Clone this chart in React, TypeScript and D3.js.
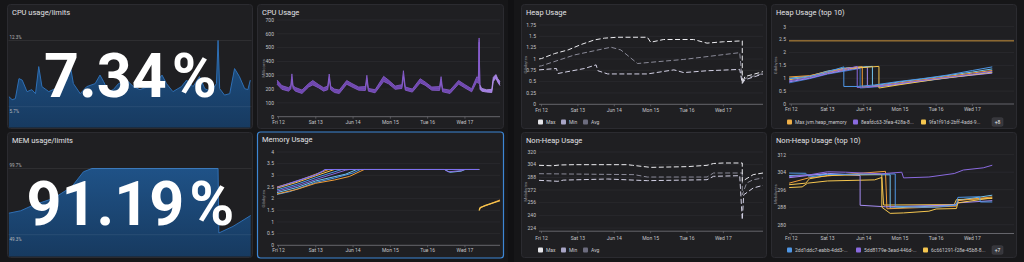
import * as d3 from "d3";
import React from "react";

type Pt = [number, number];
type Band = [number, number, number];
type Line = { pts: Pt[]; color: string; dash?: string; width?: number };

const FONT = "Roboto, 'Noto Sans', sans-serif";
const BG = "#161618";
const PANEL = "#1f1f22";
const BORDER = "#2b2b30";
const GRID = "#2c2c31";
const AXIS = "#77777d";
const TICK_TEXT = "#c4c4c8";

// days since Fri 12 00:00
const dayTicks = [0, 1, 2, 3, 4, 5];
const dayLabels = ["Fri 12", "Sat 13", "Jun 14", "Mon 15", "Tue 16", "Wed 17"];

// ---- stat panels ----
const cpuLimitRange = [5.7, 12.3];
const cpuLimitValue = "7.34";
const cpuLimitPct: Pt[] = [
  [-0.08, 6.7], [0.0, 6.4], [0.08, 6.5], [0.17, 8.5], [0.25, 8.35], [0.37, 7.2], [0.49, 7.4],
  [0.58, 7.0], [0.66, 9.7], [0.74, 7.7], [0.91, 7.2], [1.07, 7.5], [1.24, 8.2], [1.36, 8.35],
  [1.44, 9.85], [1.52, 8.0], [1.69, 7.0], [1.85, 7.7], [2.06, 8.0], [2.18, 8.85], [2.27, 8.2],
  [2.39, 7.2], [2.51, 7.4], [2.64, 8.0], [2.84, 8.35], [3.01, 7.7], [3.17, 7.4], [3.38, 7.7],
  [3.54, 8.0], [3.72, 8.85], [3.83, 8.0], [3.99, 7.2], [4.2, 7.7], [4.33, 8.35], [4.49, 7.7],
  [4.65, 8.7], [4.78, 7.5], [4.94, 7.2], [5.07, 8.0], [5.11, 12.3], [5.15, 7.5], [5.27, 6.86],
  [5.4, 7.0], [5.52, 9.5], [5.64, 8.7], [5.77, 7.5], [5.85, 7.4], [5.91, 8.35],
];

const memLimitRange = [49.3, 99.7];
const memLimitValue = "91.19";
const memLimitPct: Pt[] = [
  [-0.08, 65.7], [0.21, 67.5], [0.54, 72], [1.03, 77], [1.48, 85.8], [1.77, 97.2], [1.98, 99.7],
  [5.11, 99.7], [5.13, 50.6], [5.48, 55.6], [5.92, 63.9],
];

// ---- CPU Usage (millicores): day, low, high ----
const cpuTicks = [0, 100, 200, 300, 400, 500, 600, 700];
const cpuBand: Band[] = [
  [-0.04, 235, 265], [0.09, 198, 225], [0.27, 185, 210], [0.33, 200, 225], [0.36, 270, 310],
  [0.39, 205, 225], [0.45, 185, 212], [0.63, 168, 193], [0.81, 215, 240], [0.92, 230, 262],
  [1.08, 208, 232], [1.21, 185, 210], [1.32, 195, 222], [1.36, 275, 309], [1.4, 195, 220],
  [1.5, 175, 200], [1.63, 168, 193], [1.83, 235, 262], [1.97, 215, 240], [2.15, 192, 215],
  [2.33, 190, 218], [2.37, 265, 300], [2.41, 185, 205], [2.59, 173, 195], [2.82, 255, 292],
  [2.95, 238, 265], [3.13, 198, 222], [3.31, 205, 232], [3.35, 290, 333], [3.4, 192, 215],
  [3.59, 178, 200], [3.8, 245, 275], [3.93, 228, 252], [4.11, 192, 215], [4.32, 190, 218],
  [4.36, 255, 290], [4.4, 180, 202], [4.6, 168, 192], [4.83, 236, 262], [5.0, 208, 232],
  [5.18, 180, 202], [5.32, 255, 290], [5.36, 240, 280], [5.38, 540, 570], [5.4, 200, 230],
];
const cpuBandAfter: Band[] = [
  [5.4, 200, 230], [5.45, 185, 205], [5.58, 178, 195], [5.72, 175, 198], [5.76, 255, 285],
  [5.83, 278, 305], [5.88, 250, 275], [5.94, 225, 255],
];

// ---- Memory Usage (GiB) ----
const memTicks = [0, 0.5, 1, 1.5, 2, 2.5, 3, 3.5, 4];
const memOrange: Pt[] = [[-0.04, 2.5], [0.5, 2.75], [1.0, 3.05], [1.35, 3.25], [5.38, 3.25]];
const memYellow: Pt[] = [[-0.04, 2.45], [0.5, 2.7], [1.0, 2.98], [1.5, 3.25], [5.38, 3.25]];
const memBlue: Pt[] = [[-0.04, 2.38], [0.5, 2.62], [1.0, 2.9], [1.6, 3.2], [1.7, 3.25], [5.38, 3.25]];
const memPurple: Pt[] = [
  [-0.04, 2.32], [0.5, 2.55], [1.0, 2.82], [1.8, 3.22], [1.9, 3.25], [4.45, 3.25], [4.55, 3.15],
  [4.9, 3.2], [5.0, 3.25], [5.38, 3.25],
];
const memLightBlue: Pt[] = [
  [-0.04, 2.26], [0.5, 2.48], [1.0, 2.76], [1.8, 3.05], [2.1, 3.25], [4.45, 3.25], [4.6, 3.13],
  [4.9, 3.18], [5.0, 3.25], [5.38, 3.25],
];
const memOrange2: Pt[] = [[-0.04, 2.2], [0.5, 2.4], [1.0, 2.66], [1.5, 2.8], [1.9, 2.95], [2.3, 3.25], [5.38, 3.25]];
const memBlue2: Pt[] = [[-0.04, 2.18], [0.3, 2.3], [1.0, 2.7], [1.5, 2.88], [2.0, 3.1], [2.2, 3.25], [5.38, 3.25]];
const memTop: Pt[] = [[-0.04, 2.48], [0.5, 2.76], [1.0, 3.02], [1.2, 3.2], [1.25, 3.25], [5.38, 3.25]];
const memAfterA: Pt[] = [[5.38, 1.49], [5.4, 1.6], [5.55, 1.71], [5.94, 1.91]];
const memAfterB: Pt[] = [[5.39, 1.53], [5.42, 1.63], [5.6, 1.73], [5.94, 1.94]];

// ---- Heap Usage (GiB) ----
const heapTicks = [0, 0.25, 0.5, 0.75, 1, 1.25, 1.5, 1.75];
const heapMax: Pt[] = [
  [-0.07, 1.0], [0, 1.01], [0.36, 1.12], [0.73, 1.2], [1.09, 1.32], [1.45, 1.42], [1.73, 1.46],
  [2.09, 1.48], [2.91, 1.48], [3.0, 1.37], [3.36, 1.43], [4.18, 1.43], [4.55, 1.35], [5.0, 1.38],
  [5.52, 1.4], [5.52, 0.46], [5.59, 0.61], [6.09, 0.72],
];
const heapAvg: Pt[] = [
  [-0.07, 0.84], [0, 0.85], [0.91, 1.09], [1.91, 1.26], [2.18, 1.2], [2.64, 0.9], [3.18, 0.94],
  [3.91, 0.99], [5.45, 1.14], [5.52, 0.5], [5.59, 0.57], [6.09, 0.68],
];
const heapMin: Pt[] = [
  [-0.07, 0.76], [0.41, 0.79], [0.45, 0.68], [1.18, 0.79], [1.5, 0.87], [1.55, 0.74], [1.82, 0.67],
  [2.91, 0.67], [3.64, 0.76], [3.91, 0.7], [4.55, 0.74], [5.45, 0.77], [5.52, 0.46], [5.59, 0.54],
  [6.09, 0.67],
];

// ---- Heap Usage top 10 (GiB) ----
const heapTopTicks = [0, 0.5, 1, 1.5, 2, 2.5, 3];
const heapLimit: Pt[] = [[-0.064, 2.45], [6.15, 2.45]];
const heapTopA: Pt[] = [[-0.06, 0.98], [0.3, 1.02], [0.6, 1.1], [1.0, 1.25], [1.45, 1.44], [1.45, 0.68], [1.82, 0.68], [2.3, 0.74], [3.0, 0.88], [3.6, 0.98], [4.3, 1.12], [5.0, 1.3], [5.55, 1.44]];
const heapTopB: Pt[] = [[-0.06, 0.9], [0.5, 1.02], [1.0, 1.2], [1.5, 1.36], [1.82, 1.46], [1.82, 0.64], [2.4, 0.7], [3.0, 0.8], [4.0, 0.98], [5.0, 1.16], [5.55, 1.27]];
const heapTopC: Pt[] = [[-0.06, 0.94], [0.5, 1.06], [1.0, 1.22], [1.6, 1.38], [2.42, 1.46], [2.42, 0.62], [3.0, 0.75], [4.0, 0.96], [5.0, 1.14], [5.55, 1.24]];
const heapTopD: Pt[] = [[-0.06, 1.05], [0.5, 1.1], [1.0, 1.26], [1.6, 1.4], [1.96, 1.45], [1.96, 0.66], [2.5, 0.72], [3.0, 0.82], [4.0, 1.0], [5.0, 1.2], [5.55, 1.3]];
const heapTopE: Pt[] = [[-0.06, 0.86], [0.5, 1.0], [1.0, 1.18], [1.6, 1.34], [2.1, 1.44], [2.1, 0.66], [2.7, 0.72], [3.5, 0.88], [4.5, 1.05], [5.55, 1.2]];
const heapTopF: Pt[] = [[-0.06, 1.0], [0.5, 1.08], [1.0, 1.28], [1.5, 1.4], [2.24, 1.46], [2.24, 0.7], [3.0, 0.86], [4.0, 1.04], [5.0, 1.24], [5.55, 1.36]];
const heapTopG: Pt[] = [[-0.06, 0.82], [0.5, 0.98], [1.0, 1.16], [1.7, 1.33], [1.9, 1.38], [1.9, 0.62], [2.5, 0.68], [3.5, 0.86], [4.5, 1.04], [5.55, 1.22]];

// ---- Non-Heap Usage (MiB) ----
const nonHeapTicks = [224, 240, 256, 272, 288, 304, 320];
const nonHeapMax: Pt[] = [
  [-0.07, 303.2], [0.3, 302.6], [0.5, 303.6], [0.91, 304], [2.36, 304], [2.5, 303.2], [3.0, 300.6],
  [4.0, 301.5], [4.55, 303.2], [4.73, 305.5], [5.0, 306.1], [5.52, 306.1], [5.52, 283],
  [5.82, 291.4], [6.09, 293.5],
];
const nonHeapAvg: Pt[] = [
  [-0.07, 292.6], [2.55, 291.4], [2.91, 288.4], [4.55, 288.4], [4.73, 293.5], [5.52, 293.5],
  [5.52, 266], [5.64, 280.8], [5.82, 285], [6.09, 287.2],
];
const nonHeapMin: Pt[] = [
  [-0.07, 284.2], [0.45, 283], [0.6, 284.5], [1.82, 285.9], [2.91, 283.8], [4.55, 285],
  [4.73, 289.3], [5.45, 290.1], [5.52, 234.5], [5.56, 266], [5.82, 274.5], [6.09, 277.9],
];

// ---- Non-Heap Usage top 10 (MiB) ----
const nonHeapTopTicks = [280, 288, 296, 304, 312];
const nhTopA: Pt[] = [[-0.06, 302], [0.5, 302.8], [1.0, 304.2], [1.5, 304], [2.0, 303.6], [2.5, 303.3], [3.05, 304], [3.1, 301.4], [3.8, 301.8], [4.5, 303.4], [4.75, 305], [5.3, 306], [5.55, 307.2]];
const nhTopB: Pt[] = [[-0.06, 303.6], [0.4, 303.5], [0.5, 301.8], [1.0, 303], [2.87, 303.2], [2.87, 288.5], [3.5, 288], [4.0, 288], [4.56, 289], [4.6, 292.5], [5.2, 292.8], [5.22, 290.4], [5.55, 290.4]];
const nhTopC: Pt[] = [[-0.06, 298.3], [0.4, 299], [0.5, 301], [1.0, 302.5], [2.5, 303], [2.5, 288], [2.73, 285.2], [3.1, 285.4], [3.8, 286.2], [4.0, 287.2], [4.56, 287.4], [4.6, 290], [5.55, 292.3]];
const nhTopD: Pt[] = [[-0.06, 301.5], [1.0, 303.5], [1.9, 302.5], [1.9, 288.9], [2.6, 288.2], [4.5, 289], [4.6, 290], [5.55, 291]];
const nhTopE: Pt[] = [[-0.06, 299], [0.5, 301.5], [1.2, 302.6], [2.6, 304.4], [2.64, 287.3], [3.5, 287.8], [4.56, 288.5], [4.6, 291], [5.55, 292.7]];
const nhTopF: Pt[] = [[-0.06, 302.5], [1.0, 303], [2.73, 302.8], [2.73, 287.6], [4.56, 289], [4.62, 291.2], [5.55, 293.5]];
const nhTopG: Pt[] = [[-0.06, 297], [0.3, 297.3], [0.45, 299], [1.0, 300], [2.3, 300.5], [2.5, 301.6], [2.55, 289], [4.5, 289.2], [4.56, 291.5], [5.55, 292]];

const C = {
  blue: "#4f97e6",
  blue2: "#3c78c8",
  lightBlue: "#72c3ee",
  purple: "#8a6ae0",
  lavender: "#a58cf2",
  yellow: "#f5c64f",
  orange: "#f09e3a",
};

function Panel({ x, y, w, h, title, active }: { x: number; y: number; w: number; h: number; title: string; active?: boolean }) {
  return (
    <g>
      <rect x={x + 0.5} y={y + 0.5} width={w} height={h} rx={3} fill={PANEL}
        stroke={active ? "#3d86d4" : BORDER} strokeWidth={active ? 1.2 : 1} />
      <text x={x + 5} y={y + 10.5} fill="#e2e2e6" fontSize={7.5} fontWeight={400} fontFamily={FONT}>{title}</text>
    </g>
  );
}

function StatPanel({ x, y, w, h, title, data, range, value }: {
  x: number; y: number; w: number; h: number; title: string; data: Pt[]; range: number[]; value: string;
}) {
  const left = x + 1.5, right = x + w - 0.5, bottom = y + h - 0.5;
  const sx = d3.scaleLinear().domain([-0.09, 5.94]).range([left, right]);
  const sy = d3.scaleLinear().domain(range).range([y + 102.7, y + 36.5]);
  const area = d3.area<Pt>().x(d => sx(d[0])).y0(bottom).y1(d => sy(d[1]))(data) || "";
  const line = d3.line<Pt>().x(d => sx(d[0])).y(d => sy(d[1]))(data) || "";
  const gid = `g-${title.replace(/[^a-z]/gi, "")}`;
  return (
    <g>
      <Panel x={x} y={y} w={w} h={h} title={title} />
      <defs>
        <linearGradient id={gid} x1="0" x2="0" y1="0" y2="1">
          <stop offset="0" stopColor="#1f5287" />
          <stop offset="1" stopColor="#173a60" />
        </linearGradient>
      </defs>
      <path d={area} fill={`url(#${gid})`} />
      <path d={line} fill="none" stroke="#2e6fb5" strokeWidth={1} />
      {range.map((v, i) => (
        <g key={v}>
          <line x1={left} x2={right} y1={sy(v)} y2={sy(v)} stroke="#ffffff" strokeOpacity={0.12} strokeWidth={0.6} />
          <text x={left + 1} y={i === 0 ? sy(v) + 6 : sy(v) - 2} fill="#b8b8bc" fontSize={4.5} fontFamily={FONT}>{`${v}%`}</text>
        </g>
      ))}
      <text x={x + w / 2 + 1} y={y + 93} textAnchor="middle" fill="#ffffff" fontSize={61} fontWeight={700} fontFamily={FONT}>
        {value}<tspan dx={5}>%</tspan>
      </text>
    </g>
  );
}

type PlotProps = {
  left: number; right: number; top: number; bottom: number;
  xDomain: number[]; yDomain: number[]; yTicks: number[]; unit: string; labelY: number;
  marks: (x: d3.ScaleLinear<number, number>, y: d3.ScaleLinear<number, number>) => React.ReactNode;
};

function Plot({ left, right, top, bottom, xDomain, yDomain, yTicks, unit, labelY, marks }: PlotProps) {
  const x = d3.scaleLinear().domain(xDomain).range([left, right]);
  const y = d3.scaleLinear().domain(yDomain).range([bottom, top]);
  return (
    <g fontFamily={FONT}>
      {yTicks.map(t => (
        <g key={t}>
          {y(t) < bottom - 1 && <line x1={left} x2={right} y1={y(t)} y2={y(t)} stroke={GRID} strokeWidth={0.7} />}
          <text x={left - 3} y={y(t) + 1.8} textAnchor="end" fill={TICK_TEXT} fontSize={5}>{String(t)}</text>
        </g>
      ))}
      <text transform={`translate(${left - 12.5},${(top + bottom) / 2}) rotate(-90)`} textAnchor="middle"
        fill="#8c8c92" fontSize={4.3}>{unit}</text>
      {marks(x, y)}
      <line x1={left} x2={right} y1={bottom} y2={bottom} stroke={AXIS} strokeWidth={0.8} />
      {dayTicks.map((d, i) => (
        <g key={d}>
          <line x1={x(d)} x2={x(d)} y1={bottom} y2={bottom + 2} stroke={AXIS} strokeWidth={0.6} />
          <text x={x(d)} y={labelY} textAnchor="middle" fill={TICK_TEXT} fontSize={5}>{dayLabels[i]}</text>
        </g>
      ))}
    </g>
  );
}

function lines(x: d3.ScaleLinear<number, number>, y: d3.ScaleLinear<number, number>, list: Line[]) {
  const gen = d3.line<Pt>().x(d => x(d[0])).y(d => y(d[1]));
  return list.map((l, i) => (
    <path key={i} d={gen(l.pts) || ""} fill="none" stroke={l.color} strokeWidth={l.width ?? 1}
      strokeDasharray={l.dash} strokeLinejoin="round" />
  ));
}

function bands(x: d3.ScaleLinear<number, number>, y: d3.ScaleLinear<number, number>, data: Band[], fill: string, edge: string) {
  const area = d3.area<Band>().x(d => x(d[0])).y0(d => y(d[1])).y1(d => y(d[2]));
  const lo = d3.line<Band>().x(d => x(d[0])).y(d => y(d[1]));
  const hi = d3.line<Band>().x(d => x(d[0])).y(d => y(d[2]));
  const mid = d3.line<Band>().x(d => x(d[0])).y(d => y((d[1] + d[2]) / 2));
  return (
    <g>
      <path d={area(data) || ""} fill={fill} />
      <path d={lo(data) || ""} fill="none" stroke={edge} strokeWidth={0.8} />
      <path d={hi(data) || ""} fill="none" stroke={edge} strokeWidth={0.8} />
      <path d={mid(data) || ""} fill="none" stroke={edge} strokeWidth={0.5} strokeOpacity={0.7} />
    </g>
  );
}

function Legend({ y, items, more }: { y: number; items: { x: number; label: string; color: string }[]; more?: { x: number; label: string } }) {
  return (
    <g fontFamily={FONT}>
      {items.map(it => (
        <g key={it.label}>
          <rect x={it.x} y={y - 2.5} width={5} height={5} rx={1} fill={it.color} />
          <text x={it.x + 8} y={y + 1.8} fill="#c8c8cc" fontSize={5}>{it.label}</text>
        </g>
      ))}
      {more && (
        <g>
          <rect x={more.x} y={y - 4.3} width={11} height={8.6} rx={1.5} fill="#37373c" stroke="#46464c" strokeWidth={0.5} />
          <text x={more.x + 5.5} y={y + 1.8} textAnchor="middle" fill="#e8e8ea" fontSize={5}>{more.label}</text>
        </g>
      )}
    </g>
  );
}

export default function App() {
  const leftDays = [-0.04, 5.94];
  const rightDays = [-0.07, 6.09];
  const topDays = [-0.064, 6.15];
  const dash = "5 2.5";
  return (
    <div style={{ position: "absolute", left: 0, top: 0, width: 1024, height: 262 }}>
      <svg width={1024} height={262} style={{ display: "block", background: BG }}>
        <rect x={508} y={0} width={6} height={262} fill="#111113" />

        <StatPanel x={7} y={4} w={245} h={124} title="CPU usage/limits" data={cpuLimitPct} range={cpuLimitRange} value={cpuLimitValue} />
        <StatPanel x={7} y={132} w={245} h={125} title="MEM usage/limits" data={memLimitPct} range={memLimitRange} value={memLimitValue} />

        <Panel x={257} y={4} w={246} h={124} title="CPU Usage" />
        <Plot left={277} right={500} top={20} bottom={116.7} xDomain={leftDays} yDomain={[0, 700]} yTicks={cpuTicks}
          unit="Millicores" labelY={123.8}
          marks={(x, y) => (
            <g>
              {bands(x, y, cpuBand, "#6a43a8", "#8a5fd0")}
              {bands(x, y, cpuBandAfter, "#9a76dc", "#b894f0")}
            </g>
          )} />

        <Panel x={257} y={131.5} w={246} h={126} title="Memory Usage" active />
        <Plot left={277} right={500} top={152} bottom={245.3} xDomain={leftDays} yDomain={[0, 4]} yTicks={memTicks}
          unit="Gibibytes" labelY={252}
          marks={(x, y) => lines(x, y, [
            { pts: memBlue2, color: C.blue },
            { pts: memOrange2, color: C.orange },
            { pts: memLightBlue, color: C.lightBlue },
            { pts: memPurple, color: C.purple },
            { pts: memBlue, color: C.blue },
            { pts: memYellow, color: C.yellow },
            { pts: memOrange, color: C.orange },
            { pts: memTop, color: "#7d70ee", width: 1.2 },
            { pts: memAfterB, color: C.orange, width: 1.2 },
            { pts: memAfterA, color: C.yellow, width: 1.2 },
          ])} />

        <Panel x={521} y={4} w={245} h={124} title="Heap Usage" />
        <Plot left={539} right={763} top={25} bottom={104.3} xDomain={rightDays} yDomain={[0, 1.75]} yTicks={heapTicks}
          unit="Gibibytes" labelY={111.8}
          marks={(x, y) => lines(x, y, [
            { pts: heapAvg, color: "#8a8a98", dash },
            { pts: heapMin, color: "#d4d2e6", dash },
            { pts: heapMax, color: "#ececf0", dash },
          ])} />
        <Legend y={122} items={[
          { x: 538, label: "Max", color: "#e6e6ea" },
          { x: 561, label: "Min", color: "#a8a5c6" },
          { x: 583, label: "Avg", color: "#6c6c7e" },
        ]} />

        <Panel x={771} y={4} w={245} h={124} title="Heap Usage (top 10)" />
        <Plot left={789} right={1014} top={26.7} bottom={104} xDomain={topDays} yDomain={[0, 3]} yTicks={heapTopTicks}
          unit="Gibibytes" labelY={111}
          marks={(x, y) => lines(x, y, [
            { pts: heapLimit, color: "#c8923c" },
            { pts: heapTopG, color: C.blue2 },
            { pts: heapTopE, color: C.lavender },
            { pts: heapTopF, color: C.lightBlue },
            { pts: heapTopD, color: C.orange },
            { pts: heapTopC, color: C.yellow },
            { pts: heapTopB, color: C.purple },
            { pts: heapTopA, color: C.blue },
          ])} />
        <Legend y={122} items={[
          { x: 787, label: "Max jvm.heap_memory", color: "#f0b048" },
          { x: 853, label: "8eafdc63-3fea-428a-8...", color: C.purple },
          { x: 921, label: "9fa1f91d-2bff-4add-9...", color: C.yellow },
        ]} more={{ x: 992, label: "+8" }} />

        <Panel x={521} y={132} w={245} h={125} title="Non-Heap Usage" />
        <Plot left={539} right={763} top={152} bottom={231.2} xDomain={rightDays} yDomain={[220, 320]} yTicks={nonHeapTicks}
          unit="Mebibytes" labelY={239.8}
          marks={(x, y) => lines(x, y, [
            { pts: nonHeapAvg, color: "#8a8a98", dash },
            { pts: nonHeapMin, color: "#d4d2e6", dash },
            { pts: nonHeapMax, color: "#ececf0", dash },
          ])} />
        <Legend y={250} items={[
          { x: 538, label: "Max", color: "#e6e6ea" },
          { x: 561, label: "Min", color: "#a8a5c6" },
          { x: 583, label: "Avg", color: "#6c6c7e" },
        ]} />

        <Panel x={771} y={132} w={245} h={125} title="Non-Heap Usage (top 10)" />
        <Plot left={789} right={1014} top={154.7} bottom={233.5} xDomain={topDays} yDomain={[276, 312]} yTicks={nonHeapTopTicks}
          unit="Mebibytes" labelY={239.5}
          marks={(x, y) => lines(x, y, [
            { pts: nhTopG, color: C.yellow },
            { pts: nhTopF, color: C.lightBlue },
            { pts: nhTopE, color: C.orange },
            { pts: nhTopD, color: C.lavender },
            { pts: nhTopC, color: C.yellow },
            { pts: nhTopB, color: C.blue },
            { pts: nhTopA, color: C.purple },
          ])} />
        <Legend y={250} items={[
          { x: 787, label: "2dd1ddc7-eabb-4dd3-...", color: C.blue },
          { x: 856, label: "5dd8179e-3ead-446d-...", color: C.purple },
          { x: 923, label: "6c661291-f28e-45b8-8...", color: C.yellow },
        ]} more={{ x: 992, label: "+7" }} />
      </svg>
    </div>
  );
}
